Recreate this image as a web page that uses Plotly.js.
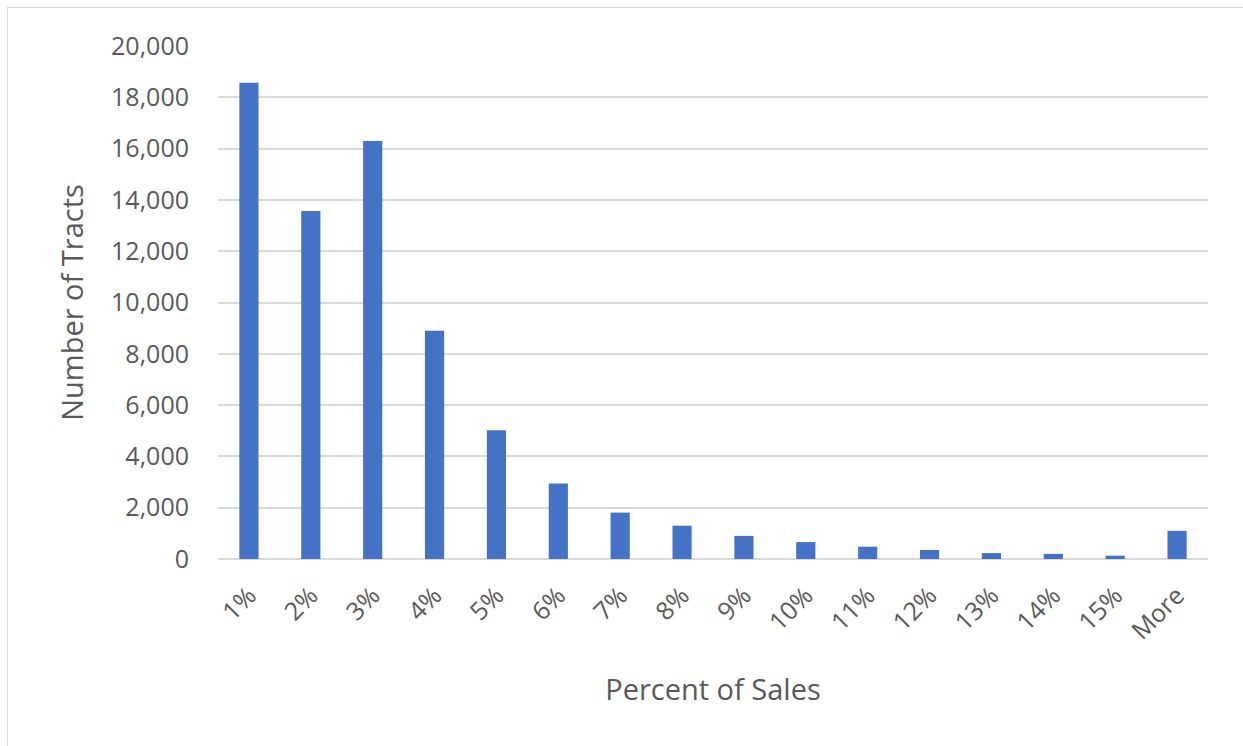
<!DOCTYPE html>
<html>
<head>
<meta charset="utf-8">
<script src="https://cdn.plot.ly/plotly-3.0.1.min.js"></script>
<style>
html, body { margin: 0; padding: 0; background: #fff; }
#frame { position: absolute; left: 7px; top: 7px; width: 1260px; height: 760px; border: 1.5px solid #d9d9d9; box-sizing: border-box; }
#chart { position: absolute; left: 0; top: 0; width: 1243px; height: 746px; }
</style>
</head>
<body>
<div id="frame"></div>
<div id="chart"></div>
<script>
const categories = ["1%", "2%", "3%", "4%", "5%", "6%", "7%", "8%", "9%", "10%", "11%", "12%", "13%", "14%", "15%", "More"];
const tractCounts = [18570, 13570, 16300, 8900, 5020, 2940, 1810, 1300, 900, 660, 480, 350, 230, 200, 130, 1100];
const yTickValues = [0, 2000, 4000, 6000, 8000, 10000, 12000, 14000, 16000, 18000, 20000];
const yTickLabels = ["0", "2,000", "4,000", "6,000", "8,000", "10,000", "12,000", "14,000", "16,000", "18,000", "20,000"];

const fontFamily = "'Open Sans', 'Noto Sans', 'Liberation Sans', sans-serif";
const textColor = "#595959";

const data = [{
  type: "bar",
  x: categories,
  y: tractCounts,
  marker: { color: "#4472C4", line: { width: 0 } },
  hoverinfo: "x+y"
}];

const layout = {
  width: 1243,
  height: 746,
  margin: { l: 218, r: 35, t: 46, b: 187 },
  paper_bgcolor: "rgba(0,0,0,0)",
  plot_bgcolor: "rgba(0,0,0,0)",
  bargap: 0.69,
  showlegend: false,
  font: { family: fontFamily, color: textColor },
  xaxis: {
    type: "category",
    tickangle: -45,
    tickfont: { size: 25, color: textColor, family: fontFamily },
    showgrid: false,
    showline: false,
    ticks: "",
    zeroline: false,
    ticklabelstandoff: 16,
    automargin: false,
    title: { text: "Percent of Sales", font: { size: 29, color: textColor, family: fontFamily }, standoff: 34 }
  },
  yaxis: {
    range: [0, 20000],
    tickvals: yTickValues,
    ticktext: yTickLabels,
    tickfont: { size: 25, color: textColor, family: fontFamily },
    showgrid: true,
    gridcolor: "#d9d9d9",
    gridwidth: 1.5,
    zeroline: true,
    zerolinecolor: "#d9d9d9",
    zerolinewidth: 1.5,
    showline: false,
    ticks: "",
    ticklabelstandoff: 28,
    automargin: false,
    title: { text: "Number of Tracts", font: { size: 29, color: textColor, family: fontFamily }, standoff: 18 }
  }
};

Plotly.newPlot("chart", data, layout, { displayModeBar: false });
</script>
</body>
</html>
